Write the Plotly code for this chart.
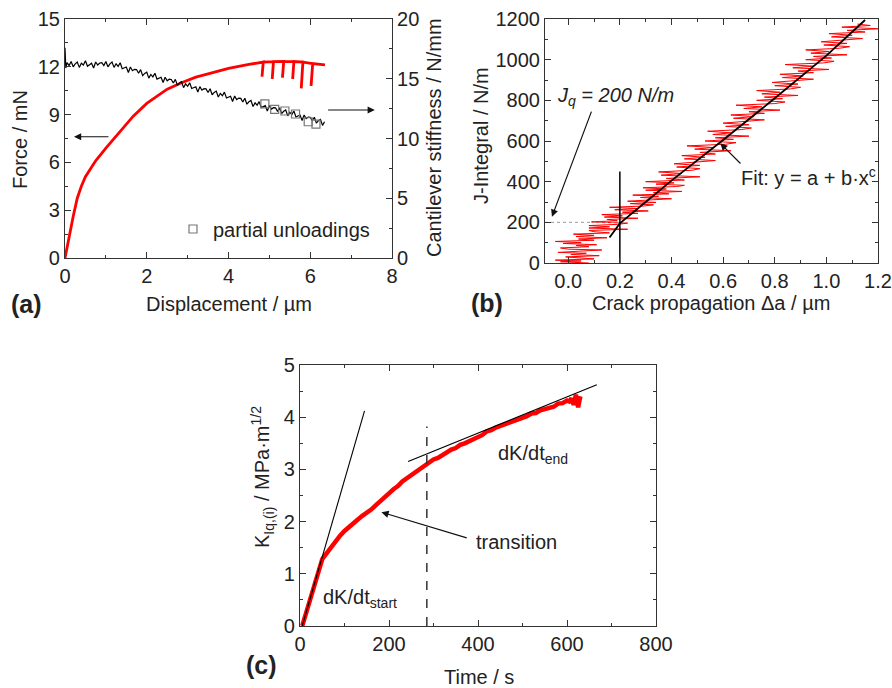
import plotly.graph_objects as go

# ---------------- Panel (a) ----------------
disp_force = [0.0, 0.1, 0.2, 0.3, 0.4, 0.5, 0.75, 1.0, 1.34, 1.67, 2.0, 2.5, 2.85, 3.2, 3.5, 4.0, 4.5,
              4.85, 4.82, 4.85, 5.10, 5.07, 5.10, 5.35, 5.32, 5.35, 5.60, 5.57, 5.60,
              5.82, 5.78, 5.82, 6.06, 6.02, 6.06, 6.36]
force = [0.0, 1.35, 2.6, 3.75, 4.5, 5.1, 6.1, 6.9, 7.9, 8.9, 9.7, 10.6, 11.0, 11.35, 11.55, 11.9, 12.15,
         12.3, 11.38, 12.3, 12.32, 11.24, 12.32, 12.33, 11.32, 12.33, 12.33, 11.24, 12.33,
         12.3, 10.65, 12.3, 12.2, 10.8, 12.2, 12.12]

disp_stiff = [0.00, 0.02, 0.05, 0.10, 0.15, 0.20, 0.25, 0.30, 0.35, 0.40, 0.45, 0.50, 0.55, 0.60, 0.65,
              0.70, 0.75, 0.80, 0.85, 0.90, 0.95, 1.00, 1.05, 1.10, 1.15, 1.20, 1.25, 1.30, 1.35, 1.40,
              1.45, 1.50, 1.55, 1.60, 1.65, 1.70, 1.75, 1.80, 1.85, 1.90, 1.95, 2.00, 2.05, 2.10, 2.15,
              2.20, 2.25, 2.30, 2.35, 2.40, 2.45, 2.50, 2.55, 2.60, 2.65, 2.70, 2.75, 2.80, 2.85, 2.90,
              2.95, 3.00, 3.05, 3.10, 3.15, 3.20, 3.25, 3.30, 3.35, 3.40, 3.45, 3.50, 3.55, 3.60, 3.65,
              3.70, 3.75, 3.80, 3.85, 3.90, 3.95, 4.00, 4.05, 4.10, 4.15, 4.20, 4.25, 4.30, 4.35, 4.40,
              4.45, 4.50, 4.55, 4.60, 4.65, 4.70, 4.75, 4.80, 4.85, 4.90, 4.95, 5.00, 5.05, 5.10, 5.15,
              5.20, 5.25, 5.30, 5.35, 5.40, 5.45, 5.50, 5.55, 5.60, 5.65, 5.70, 5.75, 5.80, 5.85, 5.90,
              5.95, 6.00, 6.05, 6.10, 6.15, 6.20, 6.25, 6.30, 6.35]
stiffness = [17.6, 15.9, 16.35, 16.1, 16.45, 16.0, 16.25, 16.4, 15.95, 16.3, 16.15, 16.5, 16.05, 16.2, 16.3,
             15.9, 16.4, 16.15, 16.32, 16.35, 16.1, 16.45, 16.0, 16.25, 16.4, 15.95, 16.25, 16.04, 16.34, 15.84,
             15.93, 15.98, 15.53, 15.98, 15.67, 15.79, 15.77, 15.46, 15.76, 15.26, 15.45, 15.55, 15.05, 15.36, 15.16,
             15.46, 14.97, 15.07, 15.12, 14.68, 15.13, 14.83, 14.96, 14.94, 14.64, 14.95, 14.45, 14.65, 14.76, 14.26,
             14.57, 14.37, 14.67, 14.18, 14.28, 14.33, 13.89, 14.34, 14.04, 14.17, 14.15, 13.85, 14.16, 13.66, 13.86,
             13.97, 13.47, 13.77, 13.58, 13.88, 13.39, 13.49, 13.54, 13.1, 13.55, 13.25, 13.38, 13.36, 13.06, 13.37,
             12.87, 13.07, 13.18, 12.68, 12.98, 12.79, 13.09, 12.59, 12.7, 12.75, 12.3, 12.76, 12.46, 12.58, 12.57,
             12.27, 12.58, 12.08, 12.28, 12.39, 11.89, 12.19, 12.0, 12.3, 11.8, 11.91, 11.96, 11.51, 11.97, 11.67,
             11.79, 11.78, 11.48, 11.78, 11.29, 11.49, 11.59, 11.1, 11.4]

unload_disp = [4.89, 5.13, 5.38, 5.64, 5.95, 6.14]
unload_stiff = [12.89, 12.44, 12.30, 12.05, 11.40, 11.20]

# ---------------- Panel (b) ----------------
crack = [0.08, -0.03, 0.05, -0.05, 0.10, 0.03, -0.01, 0.12, 0.01, 0.07, -0.04, 0.04, 0.13, 0.00, -0.03,
         0.08, 0.03, 0.11, -0.02, 0.05, -0.05, 0.10, 0.04, 0.15, 0.03, 0.10, 0.02, 0.16, 0.10, 0.08,
         0.23, 0.08, 0.16, 0.08, 0.19, 0.23, 0.09, 0.19, 0.15, 0.27, 0.14, 0.21, 0.13, 0.27, 0.21,
         0.31, 0.18, 0.27, 0.16, 0.29, 0.33, 0.24, 0.34, 0.23, 0.31, 0.40, 0.28, 0.35, 0.25, 0.39,
         0.33, 0.44, 0.30, 0.38, 0.29, 0.42, 0.45, 0.34, 0.41, 0.30,
         0.45, 0.38, 0.51, 0.36, 0.44, 0.35, 0.48, 0.51, 0.42, 0.51, 0.41, 0.49, 0.57, 0.45, 0.53,
         0.44, 0.57, 0.51, 0.63, 0.49, 0.56, 0.46, 0.61, 0.65, 0.53, 0.64, 0.57, 0.70, 0.56, 0.63,
         0.54, 0.67, 0.71, 0.61, 0.70, 0.60, 0.68, 0.76, 0.64, 0.72, 0.63, 0.76, 0.70, 0.82, 0.68,
         0.75, 0.65, 0.80, 0.84, 0.73, 0.83, 0.76, 0.89, 0.75, 0.82, 0.73, 0.86, 0.90, 0.80, 0.89,
         0.79, 0.87, 0.95, 0.83, 0.91, 0.82, 0.95, 0.89, 1.01, 0.87, 0.95, 0.84, 0.99, 1.03, 0.92,
         1.02, 0.95, 1.08, 0.94, 1.01, 0.92, 1.05, 1.09, 0.99, 1.08, 0.98, 1.06, 1.14, 1.02, 1.10,
         1.01, 1.15, 1.08, 1.20, 1.06, 1.17, 1.12]
jint = [0, 6, 10, 14, 20, 26, 30, 36, 42, 48, 52, 58, 64, 68, 74,
        80, 86, 90, 96, 100, 106, 112, 118, 124, 130, 136, 142, 148, 154, 160,
        166, 172, 178, 184, 190, 196, 202, 208, 214, 220, 226, 232, 238, 244, 250,
        256, 262, 268, 274, 280, 286, 292, 298, 304, 310, 316, 322, 328, 334, 340,
        346, 352, 358, 364, 370, 376, 382, 388, 394, 400,
        408, 416, 424, 432, 440, 448, 456, 464, 472, 480, 488, 496, 504, 512, 520,
        528, 536, 544, 552, 560, 568, 576, 584, 592, 600, 608, 616, 624, 632, 640,
        648, 656, 664, 672, 680, 688, 696, 704, 712, 720, 728, 736, 744, 752, 760,
        768, 776, 784, 792, 800, 808, 816, 824, 832, 840, 848, 856, 864, 872, 880,
        888, 896, 904, 912, 920, 928, 936, 944, 952, 960, 968, 976, 984, 992, 1000,
        1008, 1016, 1024, 1032, 1040, 1048, 1056, 1064, 1072, 1080, 1088, 1096, 1104, 1112, 1120,
        1128, 1136, 1144, 1152, 1160, 1168, 1175]

fit_crack = [0.16, 0.20, 0.30, 0.40, 0.60, 0.80, 1.00, 1.15]
fit_j = [125, 195, 300, 405, 605, 810, 1020, 1195]

jq_value = 200
onset_crack = 0.2
onset_marker_top = 450

# ---------------- Panel (c) ----------------
time_s = [5, 10, 15, 20, 25, 30, 35, 40, 45, 50, 55, 60, 65, 70,
          80, 90, 100, 110, 120, 130, 140, 150, 160, 170, 180, 190, 200, 210, 220, 230, 240, 250,
          260, 270, 280, 290, 300, 310, 320, 330, 340, 350, 360, 370, 380, 390, 400, 410, 420, 430,
          440, 450, 460, 470, 480, 490, 500, 510, 520, 530, 540, 550, 560, 570, 580, 590, 600,
          605, 610, 615, 620, 625, 630]
k_iq = [0.0, 0.14, 0.30, 0.44, 0.60, 0.74, 0.89, 1.03, 1.17, 1.28, 1.34, 1.40, 1.45, 1.51,
        1.62, 1.73, 1.82, 1.90, 1.98, 2.04, 2.11, 2.16, 2.23, 2.31, 2.38, 2.47, 2.54, 2.62, 2.68, 2.77,
        2.83, 2.89, 2.96, 3.01, 3.08, 3.12, 3.19, 3.22, 3.28, 3.32, 3.38, 3.41, 3.47, 3.50, 3.54, 3.59,
        3.63, 3.66, 3.73, 3.75, 3.80, 3.83, 3.87, 3.90, 3.94, 3.96, 4.00, 4.02, 4.07, 4.08, 4.13, 4.15,
        4.19, 4.20, 4.26, 4.27, 4.32,
        4.30, 4.36, 4.24, 4.43, 4.19, 4.40]

start_tan_t = [5, 145]
start_tan_k = [0.0, 4.12]
end_tan_t = [243, 667]
end_tan_k = [3.15, 4.62]
transition_t = 285
transition_top = 3.82

FONT = "Liberation Sans, Arial, sans-serif"
W, H = 892, 688


def px(x):
    return x / W


def py(y):
    return 1 - y / H


fig = go.Figure()

# Panel (a)
fig.add_trace(go.Scatter(x=disp_stiff, y=stiffness, mode="lines", line=dict(color="black", width=1.2),
                         xaxis="x", yaxis="y2", showlegend=False))
fig.add_trace(go.Scatter(x=unload_disp, y=unload_stiff, mode="markers", name="partial unloadings",
                         marker=dict(symbol="square-open", size=8, color="#777", line=dict(width=1.2)),
                         xaxis="x", yaxis="y2", showlegend=True))
fig.add_trace(go.Scatter(x=disp_force, y=force, mode="lines", line=dict(color="#ff0000", width=2.8),
                         xaxis="x", yaxis="y", showlegend=False))

# Panel (b)
fig.add_trace(go.Scatter(x=crack, y=jint, mode="lines", line=dict(color="#ff0000", width=1),
                         xaxis="x2", yaxis="y3", showlegend=False))
fig.add_trace(go.Scatter(x=[-0.09, onset_crack], y=[jq_value, jq_value], mode="lines",
                         line=dict(color="#999", width=1, dash="dot"),
                         xaxis="x2", yaxis="y3", showlegend=False))
fig.add_trace(go.Scatter(x=[onset_crack, onset_crack], y=[0, onset_marker_top], mode="lines",
                         line=dict(color="black", width=1.5),
                         xaxis="x2", yaxis="y3", showlegend=False))
fig.add_trace(go.Scatter(x=fit_crack, y=fit_j, mode="lines", line=dict(color="black", width=1.8),
                         xaxis="x2", yaxis="y3", showlegend=False))

# Panel (c)
fig.add_trace(go.Scatter(x=time_s, y=k_iq, mode="lines", line=dict(color="#ff0000", width=4.5),
                         xaxis="x3", yaxis="y4", showlegend=False))
fig.add_trace(go.Scatter(x=start_tan_t, y=start_tan_k, mode="lines", line=dict(color="black", width=1.1),
                         xaxis="x3", yaxis="y4", showlegend=False))
fig.add_trace(go.Scatter(x=end_tan_t, y=end_tan_k, mode="lines", line=dict(color="black", width=1.1),
                         xaxis="x3", yaxis="y4", showlegend=False))
fig.add_trace(go.Scatter(x=[transition_t, transition_t], y=[0, transition_top], mode="lines",
                         line=dict(color="#333", width=1.5, dash="dash"),
                         xaxis="x3", yaxis="y4", showlegend=False))

tickfont = dict(family=FONT, size=20, color="#222")


def ax(**kw):
    d = dict(showline=True, linecolor="#333", linewidth=1.2, ticks="inside", ticklen=6, tickwidth=1,
             tickcolor="#333", showgrid=False, zeroline=False, tickfont=tickfont, automargin=False)
    d.update(kw)
    return d


def minor(dt):
    return dict(ticks="inside", ticklen=3, tickcolor="#333", dtick=dt, showgrid=False)


fig.update_layout(
    template="none",
    width=W, height=H, margin=dict(l=0, r=0, t=0, b=0, pad=0, autoexpand=False), autosize=False,
    paper_bgcolor="white", plot_bgcolor="white",
    font=dict(family=FONT, size=20, color="#222"),
    xaxis=ax(domain=[px(65), px(392)], range=[0, 8], dtick=2, tick0=0, minor=minor(1), mirror="ticks",
             anchor="y"),
    yaxis=ax(domain=[py(258), py(19)], range=[0, 15], dtick=3, tick0=0, minor=minor(1.5), anchor="x"),
    yaxis2=ax(overlaying="y", side="right", range=[0, 20], dtick=5, tick0=0, minor=minor(2.5), anchor="x"),
    xaxis2=ax(domain=[px(545), px(878)], range=[-0.09, 1.2], dtick=0.2, tick0=0, tickformat=".1f",
              minor=minor(0.1), mirror="ticks", anchor="y3"),
    yaxis3=ax(domain=[py(263), py(19)], range=[0, 1200], dtick=200, tick0=0, minor=minor(100),
              mirror="ticks", anchor="x2"),
    xaxis3=ax(domain=[px(300), px(656)], range=[0, 800], dtick=200, tick0=0, minor=minor(100),
              mirror="ticks", anchor="y4"),
    yaxis4=ax(domain=[py(626), py(365)], range=[0, 5], dtick=1, tick0=0, minor=minor(0.5),
              mirror="ticks", anchor="x3"),
    legend=dict(x=px(173), y=py(229), xanchor="left", yanchor="middle", bgcolor="rgba(0,0,0,0)",
                borderwidth=0, font=dict(family=FONT, size=20, color="#222"), itemwidth=30),
    showlegend=True,
)

ann = []


def label(text, x, y, angle=0, size=20, bold=False):
    t = f"<b>{text}</b>" if bold else text
    ann.append(dict(text=t, x=px(x), y=py(y), xref="paper", yref="paper", showarrow=False,
                    textangle=angle, xanchor="center", yanchor="middle",
                    font=dict(family=FONT, size=size, color="#222")))


label("Displacement / µm", 229, 304)
label("(a)", 26, 304, size=25, bold=True)
label("Force / mN", 20, 140, angle=-90)
label("Cantilever stiffness / N/mm", 434, 138, angle=-90)
label("J-Integral / N/m", 481, 135, angle=-90)
label("Crack propagation Δa / µm", 711, 303)
label("(b)", 487, 303, size=25, bold=True)
label("K<sub>Iq,(i)</sub> / MPa·m<sup>1/2</sup>", 262, 477, angle=-90)
label("Time / s", 479, 677)
label("(c)", 261, 665, size=25, bold=True)


def arrow(x, y, axx, ayy, xr, yr):
    ann.append(dict(x=x, y=y, ax=axx, ay=ayy, xref=xr, yref=yr, axref=xr, ayref=yr, text="",
                    showarrow=True, arrowhead=2, arrowsize=1.2, arrowwidth=1.2, arrowcolor="#111"))


# panel (a) arrows
arrow(0.22, 7.61, 1.1, 7.61, "x", "y")
arrow(7.58, 9.29, 6.4, 9.29, "x", "y")
# panel (b) arrows
arrow(-0.063, 228, 0.092, 752, "x2", "y3")
arrow(0.589, 589, 0.673, 482, "x2", "y3")
# panel (c) arrow
arrow(183, 2.18, 378, 1.68, "x3", "y4")


def note(text, x, y, xr, yr):
    ann.append(dict(text=text, x=x, y=y, xref=xr, yref=yr, showarrow=False, xanchor="left",
                    yanchor="middle", font=dict(family=FONT, size=20, color="#222")))


note("<i>J<sub>q</sub> = 200 N/m</i>", -0.05, 821, "x2", "y3")
note("Fit: y = a + b·x<sup>c</sup>", 0.66, 425, "x2", "y3")
note("dK/dt<sub>start</sub>", 48, 0.52, "x3", "y4")
note("dK/dt<sub>end</sub>", 440, 3.28, "x3", "y4")
note("transition", 392, 1.6, "x3", "y4")

fig.update_layout(annotations=ann)

fig.write_html("out.html")
